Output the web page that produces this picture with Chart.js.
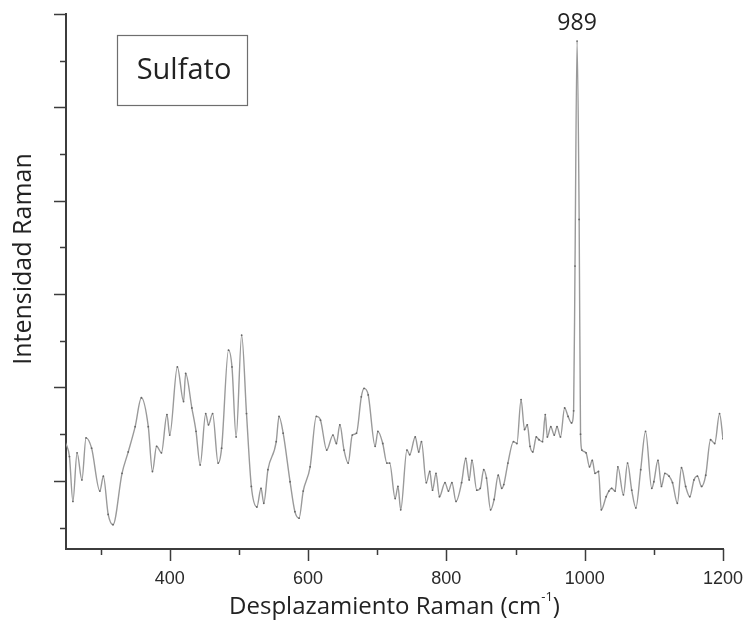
<!DOCTYPE html>
<html>
<head>
<meta charset="utf-8">
<script src="https://cdn.jsdelivr.net/npm/chart.js@4.4.0/dist/chart.umd.min.js"></script>
<style>
  body { margin: 0; background: #fff; }
  #wrap { width: 747px; height: 629px; }
</style>
</head>
<body>
<div id="wrap"><canvas id="ramanChart" width="747" height="629"></canvas></div>
<script>
// Raman shift (cm-1)
const shifts = [
    250, 255, 260, 266, 273, 279, 287, 299, 304, 311, 318, 331, 340, 350, 359, 369,
    375, 381, 388, 396, 400, 411, 420, 423, 432, 438, 444, 452, 456, 462, 470, 475,
    485, 490, 496, 504, 511, 518, 526, 532, 536, 542, 554, 558, 564, 574, 581, 587,
    593, 603, 612, 618, 627, 636, 641, 646, 652, 658, 664, 670, 677, 681, 687, 697,
    701, 708, 714, 718, 726, 730, 734, 743, 747, 755, 760, 764, 771, 776, 780, 785,
    790, 798, 803, 808, 814, 822, 828, 833, 837, 844, 849, 854, 858, 864, 869, 875,
    880, 883, 889, 897, 902, 908, 913, 917, 921, 925, 930, 934, 939, 943, 946, 951,
    956, 960, 965, 971, 976, 981, 984, 986, 989, 992, 994, 996, 1002, 1007, 1011, 1015,
    1020, 1024, 1031, 1035, 1039, 1044, 1048, 1056, 1062, 1068, 1074, 1081, 1088, 1097, 1100, 1106,
    1111, 1116, 1122, 1127, 1134, 1140, 1146, 1152, 1158, 1163, 1169, 1175, 1182, 1188, 1195, 1200
];

// intensity, arbitrary units (one unit per major tick)
const intensity = [
    1.40, 1.26, 0.78, 1.30, 1.01, 1.46, 1.35, 0.89, 1.05, 0.64, 0.53, 1.08, 1.31, 1.58, 1.89, 1.58,
    1.10, 1.37, 1.30, 1.71, 1.49, 2.22, 1.85, 2.15, 1.78, 1.53, 1.17, 1.72, 1.60, 1.72, 1.19, 1.35,
    2.40, 2.22, 1.47, 2.56, 1.72, 0.94, 0.72, 0.92, 0.76, 1.12, 1.42, 1.69, 1.51, 0.99, 0.67, 0.60,
    0.89, 1.15, 1.69, 1.65, 1.33, 1.49, 1.40, 1.60, 1.33, 1.19, 1.49, 1.51, 1.90, 1.99, 1.92, 1.37,
    1.53, 1.40, 1.19, 1.19, 0.81, 0.94, 0.69, 1.33, 1.28, 1.47, 1.31, 1.42, 0.98, 1.10, 0.90, 1.08,
    0.83, 0.98, 0.89, 0.98, 0.78, 0.98, 1.24, 1.01, 1.22, 0.90, 0.92, 1.12, 1.03, 0.69, 0.80, 1.06,
    0.92, 0.96, 1.19, 1.42, 1.40, 1.87, 1.55, 1.60, 1.37, 1.31, 1.47, 1.44, 1.42, 1.71, 1.47, 1.58,
    1.49, 1.58, 1.47, 1.78, 1.69, 1.62, 1.75, 3.30, 5.71, 3.80, 1.50, 1.33, 1.30, 1.15, 1.22, 1.08,
    1.10, 0.69, 0.83, 0.89, 0.92, 0.89, 1.15, 0.85, 1.19, 0.90, 0.71, 1.12, 1.53, 0.92, 0.99, 1.22,
    0.94, 1.08, 1.05, 0.98, 0.76, 1.14, 0.94, 0.83, 1.01, 1.05, 0.94, 1.06, 1.44, 1.40, 1.72, 1.45
];

const xMajorTicks = [400, 600, 800, 1000, 1200];
const xMinorTicks = [300, 500, 700, 900, 1100];
const yMajorTicks = [1, 2, 3, 4, 5, 6];
const yMinorTicks = [0.5, 1.5, 2.5, 3.5, 4.5, 5.5];

const peakShift = 989;
const peakLabel = "989";
const sampleName = "Sulfato";
const xTitle = "Desplazamiento Raman (cm";
const xTitleSup = "-1";
const yTitle = "Intensidad Raman";

const axisColour = "#3c3c3c";
const titleFont = '"Open Sans", sans-serif';

// tick marks, titles, sample box and peak label
const decorations = {
    id: "decorations",
    afterDraw(chart) {
        const ctx = chart.ctx;
        const area = chart.chartArea;
        const xs = chart.scales.x;
        const ys = chart.scales.y;

        ctx.save();
        ctx.strokeStyle = axisColour;
        ctx.lineWidth = 1.5;
        ctx.beginPath();
        yMajorTicks.forEach(v => {
            const py = Math.round(ys.getPixelForValue(v)) + 0.5;
            ctx.moveTo(area.left - 12, py);
            ctx.lineTo(area.left, py);
        });
        yMinorTicks.forEach(v => {
            const py = Math.round(ys.getPixelForValue(v)) + 0.5;
            ctx.moveTo(area.left - 6, py);
            ctx.lineTo(area.left, py);
        });
        xMajorTicks.forEach(v => {
            const px = Math.round(xs.getPixelForValue(v)) + 0.5;
            ctx.moveTo(px, area.bottom);
            ctx.lineTo(px, area.bottom + 12);
        });
        xMinorTicks.forEach(v => {
            const px = Math.round(xs.getPixelForValue(v)) + 0.5;
            ctx.moveTo(px, area.bottom);
            ctx.lineTo(px, area.bottom + 6);
        });
        ctx.stroke();

        ctx.fillStyle = "#222";

        // x title with superscript
        ctx.textBaseline = "alphabetic";
        ctx.font = "24px " + titleFont;
        const mainW = ctx.measureText(xTitle).width;
        const closeW = ctx.measureText(")").width;
        ctx.font = "13px " + titleFont;
        const supW = ctx.measureText(xTitleSup).width;
        const total = mainW + supW + closeW;
        let tx = (area.left + area.right) / 2 - total / 2;
        const baseY = 614;
        ctx.textAlign = "left";
        ctx.font = "24px " + titleFont;
        ctx.fillText(xTitle, tx, baseY);
        tx += mainW;
        ctx.font = "13px " + titleFont;
        ctx.fillText(xTitleSup, tx, baseY - 13);
        tx += supW;
        ctx.font = "24px " + titleFont;
        ctx.fillText(")", tx, baseY);

        // y title
        ctx.save();
        ctx.translate(24, 259);
        ctx.rotate(-Math.PI / 2);
        ctx.textAlign = "center";
        ctx.textBaseline = "middle";
        ctx.font = "25px " + titleFont;
        ctx.fillText(yTitle, 0, 0);
        ctx.restore();

        // peak label
        const peakIdx = shifts.indexOf(peakShift);
        const peakX = xs.getPixelForValue(peakShift);
        const peakY = ys.getPixelForValue(intensity[peakIdx]);
        ctx.textAlign = "center";
        ctx.textBaseline = "middle";
        ctx.font = "23px " + titleFont;
        ctx.fillText(peakLabel, peakX, peakY - 18);

        // sample box
        ctx.strokeStyle = "#6e6e6e";
        ctx.lineWidth = 1.2;
        ctx.strokeRect(117.5, 35.5, 130, 70);
        ctx.font = "29px " + titleFont;
        ctx.fillText(sampleName, 184, 71);

        ctx.restore();
    }
};

const ctx = document.getElementById("ramanChart").getContext("2d");
new Chart(ctx, {
    type: "line",
    data: {
        datasets: [{
            data: shifts.map((s, i) => ({ x: s, y: intensity[i] })),
            borderColor: "#9a9a9a",
            borderWidth: 1.4,
            pointRadius: 0.9,
            pointBackgroundColor: "#666",
            pointBorderWidth: 0,
            cubicInterpolationMode: "monotone",
            fill: false
        }]
    },
    options: {
        responsive: false,
        animation: false,
        layout: {
            padding: { top: 14, right: 24, left: 0, bottom: 0 }
        },
        plugins: {
            legend: { display: false },
            tooltip: { enabled: false }
        },
        scales: {
            x: {
                type: "linear",
                min: 250,
                max: 1200,
                afterBuildTicks: scale => {
                    scale.ticks = xMajorTicks.map(v => ({ value: v }));
                },
                afterFit: scale => {
                    scale.height = 80;
                    scale.paddingLeft = 0;
                    scale.paddingRight = 0;
                },
                grid: { display: false, drawTicks: false },
                border: { display: true, color: axisColour, width: 2 },
                ticks: {
                    padding: 19,
                    color: "#2a2a2a",
                    maxRotation: 0,
                    callback: v => String(v),
                    font: { family: '"Liberation Sans", Arial, sans-serif', size: 18 }
                }
            },
            y: {
                type: "linear",
                min: 0.27,
                max: 6,
                afterFit: scale => {
                    scale.width = 66;
                    scale.paddingTop = 0;
                    scale.paddingBottom = 0;
                },
                grid: { display: false, drawTicks: false },
                border: { display: true, color: axisColour, width: 2 },
                ticks: { display: false }
            }
        }
    },
    plugins: [decorations]
});
</script>
</body>
</html>
